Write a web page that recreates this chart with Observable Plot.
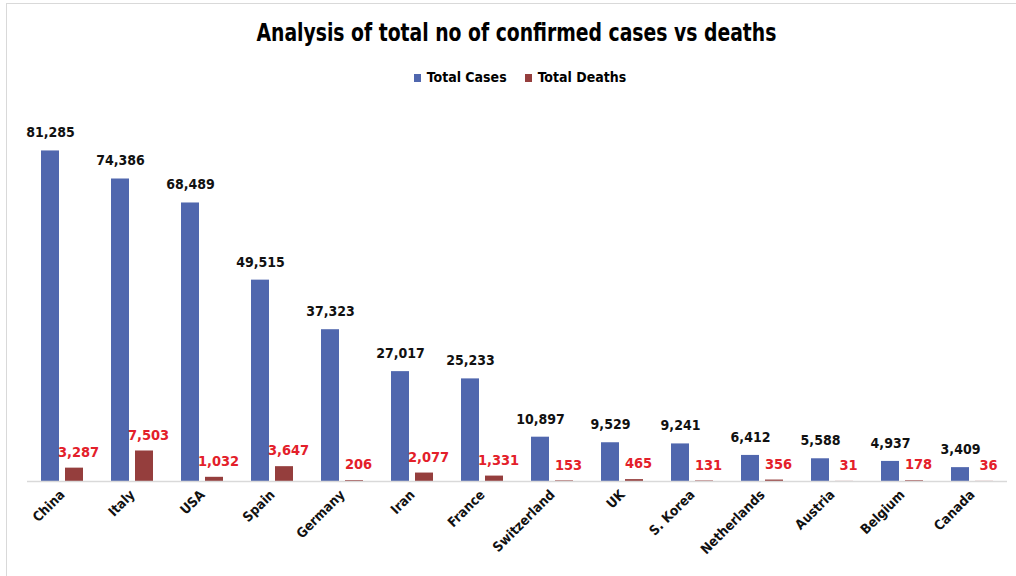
<!DOCTYPE html>
<html>
<head>
<meta charset="utf-8">
<script src="https://cdn.jsdelivr.net/npm/d3@7"></script>
<script src="https://cdn.jsdelivr.net/npm/@observablehq/plot@0.6"></script>
<style>
  html, body { margin: 0; padding: 0; background: #fff; }
  #wrap { position: relative; width: 1016px; height: 576px; overflow: hidden; font-family: "DejaVu Sans Condensed", sans-serif; }
  #frame { position: absolute; left: 6px; top: 3px; right: -2px; bottom: -2px; border-top: 1px solid #d9d9d9; border-left: 1px solid #d9d9d9; }
  #title { position: absolute; left: 0; width: 1033px; top: 19px; text-align: center; font-size: 24px; font-weight: bold; color: #000; transform: scaleX(0.87); transform-origin: 516px 0; }
  #legend { position: absolute; left: 0; width: 1040px; top: 69px; text-align: center; font-size: 14px; font-weight: bold; color: #000; }
  #legend span.sw { display: inline-block; width: 7px; height: 8px; margin-right: 6px; vertical-align: 0px; }
  #legend span.item { margin: 0 9px; }
  #chart { position: absolute; left: 0; top: 100px; }
</style>
</head>
<body>
<div id="wrap">
  <div id="frame"></div>
  <div id="title">Analysis of total no of confirmed cases vs deaths</div>
  <div id="legend"></div>
  <div id="chart"></div>
</div>
<script>
const countries = ["China", "Italy", "USA", "Spain", "Germany", "Iran", "France", "Switzerland", "UK", "S. Korea", "Netherlands", "Austria", "Belgium", "Canada"];
const totalCases = [81285, 74386, 68489, 49515, 37323, 27017, 25233, 10897, 9529, 9241, 6412, 5588, 4937, 3409];
const totalDeaths = [3287, 7503, 1032, 3647, 206, 2077, 1331, 153, 465, 131, 356, 31, 178, 36];
const seriesNames = ["Total Cases", "Total Deaths"];
const seriesColors = ["#5067ae", "#953e3d"];

const data = countries.map((c, i) => ({country: c, cases: totalCases[i], deaths: totalDeaths[i]}));
const fmt = d3.format(",");

const legend = document.getElementById("legend");
legend.innerHTML = seriesNames.map((n, i) =>
  `<span class="item"><span class="sw" style="background:${seriesColors[i]}"></span>${n}</span>`).join("");

const chart = Plot.plot({
  width: 1016,
  height: 476,
  marginLeft: 27,
  marginRight: 9,
  marginTop: 15,
  marginBottom: 95,
  style: {fontFamily: "'DejaVu Sans Condensed', sans-serif", background: "transparent", overflow: "visible"},
  x: {domain: countries, padding: 0, label: null},
  y: {domain: [0, 90000], axis: null},
  marks: [
    Plot.barY(data, {x: "country", y: "cases", fill: seriesColors[0], insetLeft: 14, insetRight: 38}),
    Plot.barY(data, {x: "country", y: "deaths", fill: seriesColors[1], insetLeft: 38, insetRight: 14}),
    Plot.ruleY([0], {stroke: "#d9d9d9", strokeWidth: 1.5}),
    Plot.text(data, {x: "country", y: "cases", text: d => fmt(d.cases), dx: -12, dy: -18, fontSize: 14, fontWeight: "bold", fill: "#111"}),
    Plot.text(data, {x: "country", y: "deaths", text: d => fmt(d.deaths), dx: 16, dy: -16, fontSize: 14.5, fontWeight: "bold", fill: "#e3202a"}),
    Plot.axisX({tickRotate: -45, tickSize: 0, tickPadding: 11, fontSize: 13.5, fontWeight: "bold", label: null, fill: "#111"})
  ]
});
document.getElementById("chart").appendChild(chart);
</script>
</body>
</html>
